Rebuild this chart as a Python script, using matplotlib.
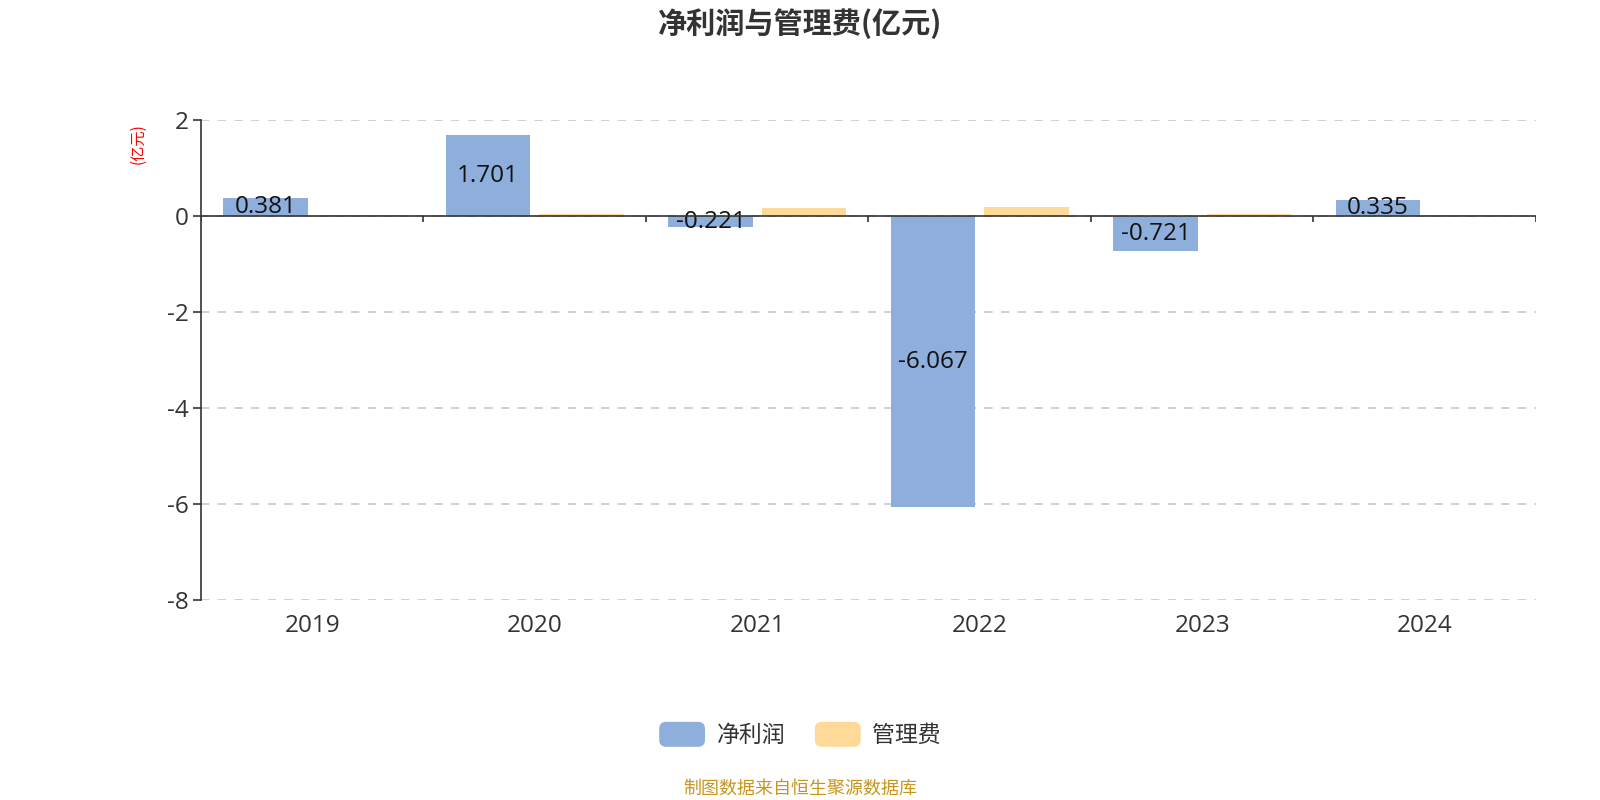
import matplotlib.pyplot as plt
import numpy as np
from matplotlib.patches import FancyBboxPatch, Patch
from matplotlib.legend_handler import HandlerPatch

plt.rcParams['font.family'] = ['Noto Sans CJK SC', 'DejaVu Sans']
num_font = ['Open Sans', 'Noto Sans CJK SC']

years = ['2019', '2020', '2021', '2022', '2023', '2024']
net_profit = [0.381, 1.701, -0.221, -6.067, -0.721, 0.335]
admin_fee = [0.02, 0.05, 0.18, 0.20, 0.05, 0.035]
series_names = ['净利润', '管理费']

blue = '#8eaedb'
orange = '#ffd997'


class RoundHandler(HandlerPatch):
    def create_artists(self, legend, orig_handle, xdescent, ydescent,
                       width, height, fontsize, trans):
        p = FancyBboxPatch((-xdescent, -ydescent), width, height,
                           boxstyle='round,pad=0,rounding_size=5',
                           facecolor=orig_handle.get_facecolor(),
                           edgecolor='none', transform=trans)
        return [p]


fig = plt.figure(figsize=(16, 8), dpi=100)
ax = fig.add_axes([0.1256, 0.25, 0.8344, 0.5995])

x = np.arange(len(years))
w = 0.38
ax.bar(x - 0.21, net_profit, w, color=blue, zorder=3)
ax.bar(x + 0.21, admin_fee, w, color=orange, zorder=3)

for xi, v in zip(x, net_profit):
    ax.text(xi - 0.21, v / 2, f'{v:.3f}', ha='center', va='center',
            fontsize=17.5, color='#111111', zorder=4, family=num_font)

ax.set_xlim(-0.5, len(years) - 0.5)
ax.set_ylim(-8, 2)
ax.set_yticks([2, 0, -2, -4, -6, -8])
ax.set_yticklabels(['2', '0', '-2', '-4', '-6', '-8'], family=num_font)
ax.set_xticks(x)
ax.set_xticklabels(years, family=num_font)
ax.tick_params(axis='x', length=0, pad=10, labelsize=17.5, labelcolor='#333333')
ax.tick_params(axis='y', length=6, width=1.2, pad=3, labelsize=17.5,
               labelcolor='#333333', color='#333333')

for s in ['top', 'right', 'bottom']:
    ax.spines[s].set_visible(False)
ax.spines['left'].set_color('#333333')
ax.spines['left'].set_linewidth(1.2)

ax.yaxis.grid(True, linestyle=(0, (5, 5)), color='#c8c8c8', linewidth=1.2, zorder=0)
ax.axhline(0, color='#333333', linewidth=1.2, zorder=5)
bounds = np.arange(len(years) + 1) - 0.5
ax.vlines(bounds, -0.12, 0, color='#333333', linewidth=1.2, zorder=5)

ax.text(-0.047, 0.951, '(亿元)', transform=ax.transAxes, rotation=90,
        ha='center', va='center', fontsize=11, color='red')

fig.text(0.5, 0.971, '净利润与管理费(亿元)', ha='center', va='center',
         fontsize=21, fontweight='bold', color='#333333')

handles = [Patch(facecolor=blue), Patch(facecolor=orange)]
fig.legend(handles, series_names, loc='center', bbox_to_anchor=(0.5, 0.082),
           ncol=2, frameon=False, fontsize=16.5, handlelength=2.0, handleheight=1.3,
           handletextpad=0.5, columnspacing=1.3,
           handler_map={Patch: RoundHandler()}, labelcolor='#333333')

fig.text(0.5, 0.014, '制图数据来自恒生聚源数据库', ha='center', va='center',
         fontsize=13, color='#c8961e')

fig.savefig('out.png', dpi=100)
